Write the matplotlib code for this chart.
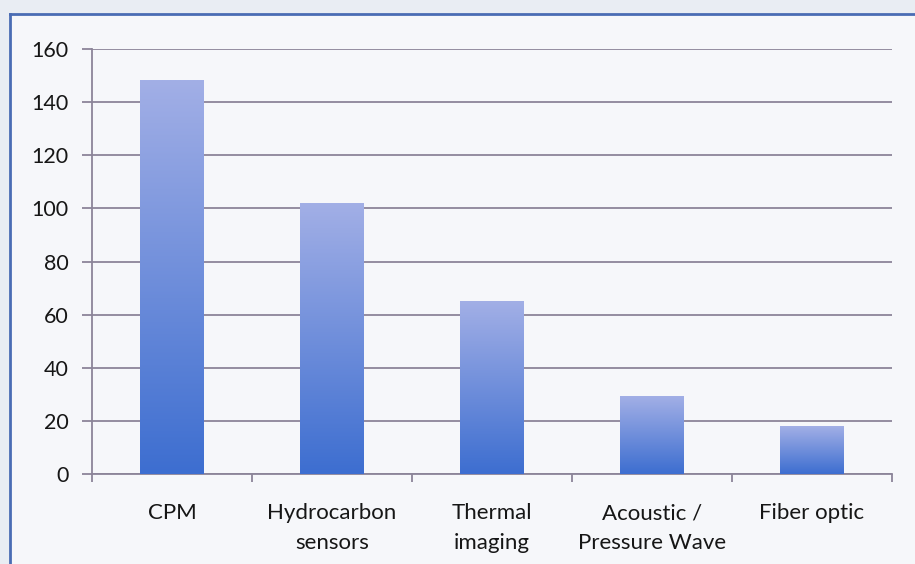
import matplotlib
matplotlib.use("Agg")
import matplotlib.pyplot as plt
import matplotlib.patches as patches
from matplotlib.colors import LinearSegmentedColormap
import numpy as np

categories = ["CPM", "Hydrocarbon\nsensors", "Thermal\nimaging",
              "Acoustic /\nPressure Wave", "Fiber optic"]
values = [148, 102, 65, 29, 18]
yticks = [0, 20, 40, 60, 80, 100, 120, 140, 160]

GRID = "#8c8499"
TEXT = "#161616"
BAR_TOP = "#a2afe6"
BAR_BOTTOM = "#3d6ed0"

plt.rcParams["font.family"] = ["Lato", "DejaVu Sans"]

fig = plt.figure(figsize=(9.15, 5.64), dpi=100)
fig.patch.set_facecolor("#e9edf3")

# inner panel with blue frame on top / left edges
W, H = 915, 564
fig.add_artist(patches.Rectangle((10 / W, 0), 1, 1 - 14 / H,
                                 transform=fig.transFigure, zorder=-10,
                                 facecolor="#f6f7fa", edgecolor="none"))
fig.add_artist(plt.Line2D([10 / W, 10 / W], [0, 1 - 14 / H],
                          transform=fig.transFigure, color="#4a6cb4", lw=2,
                          zorder=-5))
fig.add_artist(plt.Line2D([10 / W, 1], [1 - 14 / H, 1 - 14 / H],
                          transform=fig.transFigure, color="#4a6cb4", lw=2,
                          zorder=-5))

ax = fig.add_axes([92 / W, 1 - 474 / H, 800 / W, 425 / H])
ax.set_facecolor("none")

x = np.arange(len(categories))
bars = ax.bar(x, values, width=0.4, color="none", zorder=3)

cmap = LinearSegmentedColormap.from_list("bar", [BAR_BOTTOM, BAR_TOP])
grad = np.linspace(0, 1, 256).reshape(-1, 1)
for b in bars:
    x0, y0 = b.get_x(), b.get_y()
    ax.imshow(grad, cmap=cmap, origin="lower", aspect="auto",
              extent=[x0, x0 + b.get_width(), y0, y0 + b.get_height()],
              zorder=3)

ax.set_xlim(-0.5, len(categories) - 0.5)
ax.set_ylim(0, 160)
ax.set_yticks(yticks)
ax.set_yticklabels([str(v) for v in yticks], fontsize=15.5, color=TEXT)
ax.set_xticks(x)
ax.set_xticklabels(categories, fontsize=16, color=TEXT, linespacing=1.6)
ax.set_xticks(np.arange(len(categories) + 1) - 0.5, minor=True)

ax.yaxis.grid(True, color=GRID, lw=1.3, zorder=1)
ax.tick_params(axis="y", length=7, width=1.3, color=GRID, pad=10)
ax.tick_params(axis="x", which="major", length=0, pad=21)
ax.tick_params(axis="x", which="minor", length=6, width=1.3, color=GRID)

for side in ("top", "right"):
    ax.spines[side].set_visible(False)
for side in ("left", "bottom"):
    ax.spines[side].set_color(GRID)
    ax.spines[side].set_linewidth(1.3)

fig.savefig("out.png", dpi=100, facecolor=fig.get_facecolor())
